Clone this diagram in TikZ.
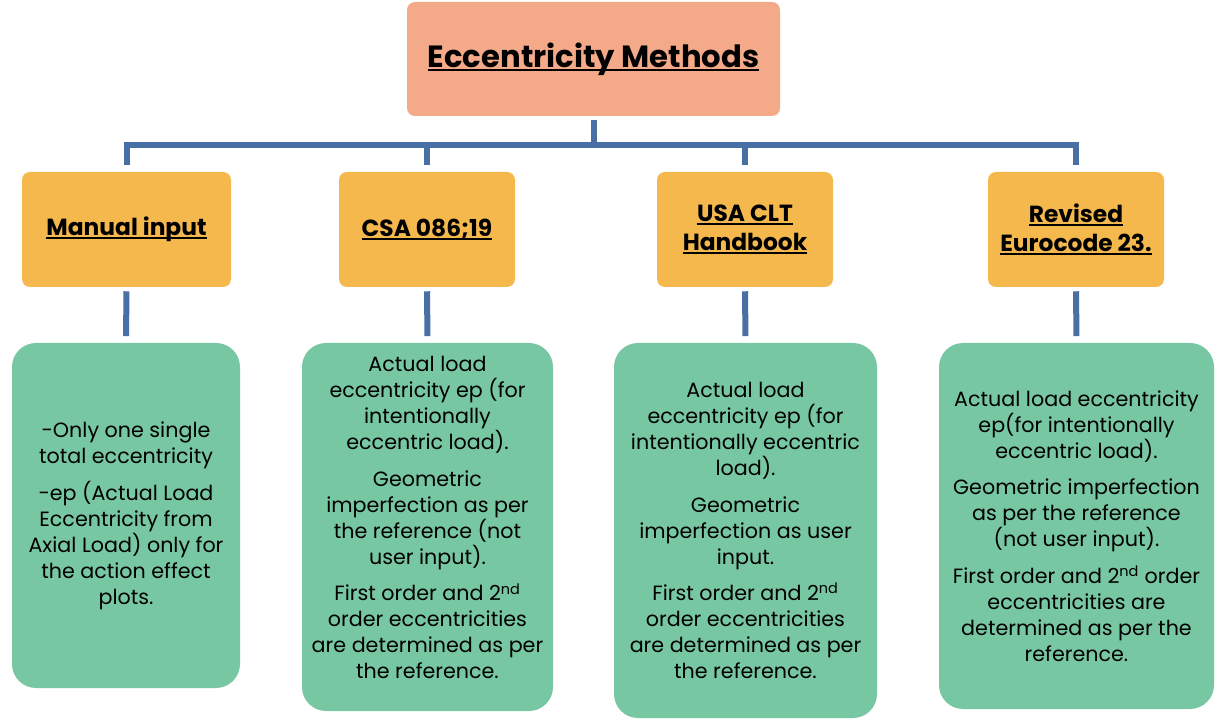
\documentclass[tikz,border=0pt]{standalone}
\usepackage{fontspec}
\setmainfont{Poppins}
\usepackage{tikz}

\definecolor{salmon}{HTML}{F4AA89}
\definecolor{mango}{HTML}{F4B84C}
\definecolor{mint}{HTML}{78C7A3}
\definecolor{linkblue}{HTML}{4A6FA5}

% underline that sits just under the baseline
\newcommand{\ulin}[1]{\setbox0\hbox{#1}\rlap{\rule[-0.13em]{\wd0}{0.07em}}\box0}

\begin{document}
\begin{tikzpicture}[x=0.75pt,y=-0.75pt]

	\tikzstyle{topbox}=[fill=salmon,rounded corners=6pt,minimum width=279.75pt,minimum height=85.5pt,font=\bfseries\fontsize{23}{28}\selectfont]
	\tikzstyle{methodbox}=[fill=mango,rounded corners=6pt,minimum height=86.25pt,align=center,font=\bfseries\fontsize{17.5}{22}\selectfont]
	\tikzstyle{notebox}=[fill=mint,rounded corners=18pt,align=center,font=\fontsize{15.5}{19.5}\selectfont]
	\tikzstyle{link}=[line width=4.5pt,draw=linkblue]

	\useasboundingbox (0,0) rectangle (1229,723);

	\node[topbox] (top) at (593.5,59) {\ulin{Eccentricity Methods}};

	\foreach \n / \x / \w / \t in {1/126.5/209/{\ulin{Manual input}},2/427/176/{\ulin{CSA 086;19}},3/745/176/{\ulin{USA CLT}\\\ulin{Handbook}},4/1076/176/{\ulin{Revised}\\\ulin{Eurocode 23.}}}
		{ \node[methodbox,minimum width=\w*0.75pt] (m\n) at (\x,229.5) {\t}; }

	\node[notebox,minimum width=171pt,minimum height=258.75pt] (d1) at (126,515.5)
		{-Only one single\\total eccentricity\\[8pt]-ep (Actual Load\\Eccentricity from\\Axial Load) only for\\the action effect\\plots.};
	\node[notebox,minimum width=188.25pt,minimum height=276pt,text depth=14pt] (d2) at (427.5,527)
		{Actual load\\eccentricity ep (for\\intentionally\\eccentric load).\\[8pt]Geometric\\imperfection as per\\the reference (not\\user input).\\[8pt]First order and 2\textsuperscript{nd}\\order eccentricities\\are determined as per\\the reference.};
	\node[notebox,minimum width=197.25pt,minimum height=281.25pt] (d3) at (745.5,530.5)
		{Actual load\\eccentricity ep (for\\intentionally eccentric\\load).\\[8pt]Geometric\\imperfection as user\\input.\\[8pt]First order and 2\textsuperscript{nd}\\order eccentricities\\are determined as per\\the reference.};
	\node[notebox,minimum width=206.25pt,minimum height=274.5pt] (d4) at (1076.5,526)
		{Actual load eccentricity\\ep(for intentionally\\eccentric load).\\[8pt]Geometric imperfection\\as per the reference\\(not user input).\\[8pt]First order and 2\textsuperscript{nd} order\\eccentricities are\\determined as per the\\reference.};

	\coordinate (bus) at (593.5,145);
	\draw[link,shorten <=3pt] (top.south) -- (bus);
	\draw[link,shorten <=5pt,shorten >=5pt] (m1.north) -- (m1.north |- bus) -- (m4.north |- bus) -- (m4.north);
	\foreach \n in {2,3} { \draw[link,shorten >=5pt] (m\n.north |- bus) -- (m\n.north); }
	\foreach \n in {1,...,4} { \draw[link,shorten <=3pt,shorten >=5pt] (m\n.south) -- (d\n.north); }
\end{tikzpicture}
\end{document}
